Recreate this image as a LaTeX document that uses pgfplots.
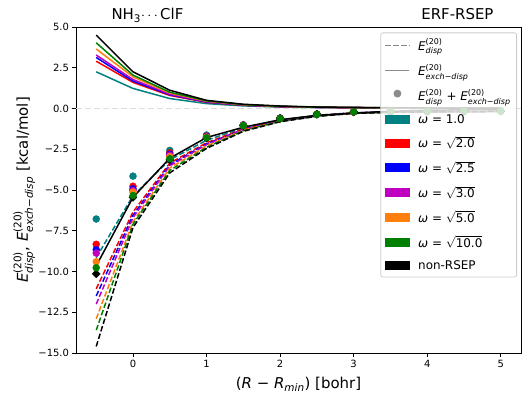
\documentclass[border=0pt]{standalone}
\usepackage{fontspec}
\setmainfont{DejaVu Sans}
\usepackage{amsmath}
\usepackage{pgfplots}
\usepackage{pgfplotstable}
\pgfplotsset{compat=1.18}

\definecolor{cteal}{RGB}{0,128,128}
\definecolor{cred}{RGB}{255,0,0}
\definecolor{cblue}{RGB}{0,0,255}
\definecolor{cmag}{RGB}{191,0,191}
\definecolor{corange}{RGB}{255,127,14}
\definecolor{cgreen}{RGB}{0,128,0}
\definecolor{legframe}{RGB}{204,204,204}
\definecolor{zeroline}{RGB}{220,220,220}
\definecolor{leggray}{RGB}{140,140,140}

\newcommand{\Ed}{$\textit{E}^{\text{(20)}}_{\textit{disp}}$}
\newcommand{\Ex}{$\textit{E}^{\text{(20)}}_{\textit{exch−disp}}$}

% R  exch  disp  tot
\pgfplotstableread{
R    exch  disp   tot
-0.5 2.25  -9.15  -6.78
0    1.23  -5.35  -4.15
0.5  0.61  -3.15  -2.57
1    0.30  -1.95  -1.63
1.5  0.16  -1.18  -1.00
2    0.09  -0.70  -0.58
2.5  0.06  -0.42  -0.34
3    0.04  -0.26  -0.20
3.5  0.03  -0.22  -0.19
4    0.02  -0.20  -0.18
4.5  0.015 -0.19  -0.17
5    0.01  -0.18  -0.16
}\wone
\pgfplotstableread{
R    exch  disp   tot
-0.5 2.90  -11.06 -8.33
0    1.60  -6.35  -4.77
0.5  0.80  -3.35  -2.72
1    0.38  -2.10  -1.68
1.5  0.20  -1.25  -1.02
2    0.11  -0.73  -0.60
2.5  0.07  -0.44  -0.35
3    0.05  -0.27  -0.21
3.5  0.035 -0.22  -0.19
4    0.025 -0.20  -0.18
4.5  0.018 -0.19  -0.17
5    0.012 -0.18  -0.16
}\wtwo
\pgfplotstableread{
R    exch  disp   tot
-0.5 3.13  -11.50 -8.66
0    1.68  -6.55  -4.93
0.5  0.84  -3.45  -2.80
1    0.40  -2.17  -1.71
1.5  0.21  -1.28  -1.03
2    0.12  -0.75  -0.60
2.5  0.075 -0.45  -0.35
3    0.05  -0.27  -0.21
3.5  0.035 -0.22  -0.19
4    0.025 -0.20  -0.18
4.5  0.018 -0.19  -0.17
5    0.012 -0.18  -0.16
}\wtwofive
\pgfplotstableread{
R    exch  disp   tot
-0.5 3.28  -12.00 -8.87
0    1.78  -6.70  -5.03
0.5  0.88  -3.52  -2.86
1    0.42  -2.22  -1.73
1.5  0.22  -1.30  -1.03
2    0.12  -0.76  -0.61
2.5  0.075 -0.45  -0.35
3    0.05  -0.28  -0.21
3.5  0.035 -0.22  -0.19
4    0.025 -0.20  -0.18
4.5  0.018 -0.19  -0.17
5    0.012 -0.18  -0.16
}\wthree
\pgfplotstableread{
R    exch  disp   tot
-0.5 3.65  -12.90 -9.40
0    1.94  -6.95  -5.13
0.5  0.95  -3.65  -2.95
1    0.45  -2.30  -1.76
1.5  0.23  -1.33  -1.04
2    0.13  -0.78  -0.61
2.5  0.08  -0.46  -0.35
3    0.055 -0.28  -0.21
3.5  0.04  -0.23  -0.19
4    0.028 -0.21  -0.18
4.5  0.02  -0.19  -0.17
5    0.014 -0.18  -0.16
}\wfive
\pgfplotstableread{
R    exch  disp   tot
-0.5 4.03  -13.60 -9.77
0    2.05  -7.10  -5.34
0.5  1.00  -3.80  -3.08
1    0.47  -2.38  -1.79
1.5  0.24  -1.36  -1.05
2    0.14  -0.79  -0.62
2.5  0.085 -0.47  -0.36
3    0.06  -0.29  -0.21
3.5  0.04  -0.23  -0.19
4    0.03  -0.21  -0.18
4.5  0.02  -0.19  -0.17
5    0.015 -0.18  -0.16
}\wten
% non-RSEP, ref = solid black line through the totals
\pgfplotstableread{
R    exch  disp   tot    ref
-0.5 4.50  -14.60 -10.14 -9.65
0    2.25  -7.30  -5.45  -5.45
0.5  1.12  -3.95  -3.15  -3.05
1    0.50  -2.45  -1.82  -1.78
1.5  0.26  -1.40  -1.06  -1.15
2    0.15  -0.81  -0.62  -0.69
2.5  0.09  -0.48  -0.36  -0.42
3    0.065 -0.30  -0.21  -0.28
3.5  0.045 -0.23  -0.19  -0.17
4    0.03  -0.21  -0.18  -0.11
4.5  0.022 -0.19  -0.17  -0.08
5    0.016 -0.18  -0.16  -0.06
}\nonrsep

\pgfplotsset{
  lineleg/.style={legend image code/.code={\draw[##1, line width=1.5bp, draw opacity=1, sharp corners] (0bp,0bp) -- (24bp,0bp);}},
  boxleg/.style={legend image code/.code={\fill[##1, fill opacity=1, sharp corners] (0bp,-4bp) rectangle (24bp,4bp);}},
  dotleg/.style={legend image code/.code={\fill[leggray, fill opacity=1] (12bp,2bp) circle (3.5bp);}},
  dis/.style={line width=1.5bp, dash pattern=on 5.5bp off 2.4bp, forget plot},
  exd/.style={line width=1.5bp, forget plot},
  tot/.style={only marks, mark=*, mark size=3.5bp, forget plot},
}

\begin{document}
\begin{tikzpicture}
\begin{axis}[
  name=ax,
  width=445bp, height=326bp, scale only axis,
  xmin=-0.775, xmax=5.275, ymin=-15, ymax=5,
  xtick={0,1,2,3,4,5}, xticklabels={0,1,2,3,4,5},
  ytick={-15,-12.5,-10,-7.5,-5,-2.5,0,2.5,5},
  yticklabels={−15.0,−12.5,−10.0,−7.5,−5.0,−2.5,0.0,2.5,5.0},
  tick label style={font=\fontsize{10}{12}\selectfont},
  xtick pos=left, ytick pos=left,
  tick align=outside, major tick length=3.5bp,
  every tick/.style={black, line width=0.8bp},
  axis line style={line width=0.8bp},
  legend style={
    at={(1,1)}, anchor=north east, xshift=-4bp, yshift=-5.5bp,
    draw=legframe, line width=0.8bp, rounded corners=2bp,
    fill=white, fill opacity=0.8, text opacity=1,
    font=\fontsize{12}{14}\selectfont,
    row sep=8bp, inner xsep=4bp, inner ysep=4bp,
    /tikz/every odd column/.append style={column sep=6bp},
  },
  legend cell align=left,
]
\addplot[zeroline, line width=1.5bp, dash pattern=on 6bp off 3bp, forget plot] coordinates {(-0.775,0) (5.275,0)};

\addplot[cteal, dis] table[x=R, y=disp] {\wone};
\addplot[cteal, exd] table[x=R, y=exch] {\wone};
\addplot[cred, dis] table[x=R, y=disp] {\wtwo};
\addplot[cred, exd] table[x=R, y=exch] {\wtwo};
\addplot[cblue, dis] table[x=R, y=disp] {\wtwofive};
\addplot[cblue, exd] table[x=R, y=exch] {\wtwofive};
\addplot[cmag, dis] table[x=R, y=disp] {\wthree};
\addplot[cmag, exd] table[x=R, y=exch] {\wthree};
\addplot[corange, dis] table[x=R, y=disp] {\wfive};
\addplot[corange, exd] table[x=R, y=exch] {\wfive};
\addplot[cgreen, dis] table[x=R, y=disp] {\wten};
\addplot[cgreen, exd] table[x=R, y=exch] {\wten};
\addplot[black, dis] table[x=R, y=disp] {\nonrsep};
\addplot[black, exd] table[x=R, y=exch] {\nonrsep};
\addplot[black, exd] table[x=R, y=ref] {\nonrsep};

\addplot[cteal, tot] table[x=R, y=tot] {\wone};
\addplot[cred, tot] table[x=R, y=tot] {\wtwo};
\addplot[cblue, tot] table[x=R, y=tot] {\wtwofive};
\addplot[cmag, tot] table[x=R, y=tot] {\wthree};
\addplot[corange, tot] table[x=R, y=tot] {\wfive};
\addplot[black, tot, mark=diamond*, mark size=4bp, mark options={xscale=1.33}] table[x=R, y=tot] {\nonrsep};
\addplot[cgreen, tot] table[x=R, y=tot] {\wten};

\addlegendimage{leggray, dash pattern=on 5.5bp off 2.4bp, lineleg}
\addlegendentry{\Ed}
\addlegendimage{leggray, lineleg}
\addlegendentry{\Ex}
\addlegendimage{leggray, dotleg}
\addlegendentry{\Ed{} + \Ex}
\addlegendimage{cteal, boxleg}
\addlegendentry{\textit{ω} = 1.0}
\addlegendimage{cred, boxleg}
\addlegendentry{\textit{ω} = $\sqrt{\text{2.0}}$}
\addlegendimage{cblue, boxleg}
\addlegendentry{\textit{ω} = $\sqrt{\text{2.5}}$}
\addlegendimage{cmag, boxleg}
\addlegendentry{\textit{ω} = $\sqrt{\text{3.0}}$}
\addlegendimage{corange, boxleg}
\addlegendentry{\textit{ω} = $\sqrt{\text{5.0}}$}
\addlegendimage{cgreen, boxleg}
\addlegendentry{\textit{ω} = $\sqrt{\text{10.0}}$}
\addlegendimage{black, boxleg}
\addlegendentry{non-RSEP}
\end{axis}

\node[anchor=base west, font=\fontsize{15}{18}\selectfont] at ([xshift=32bp, yshift=7bp]ax.north west) {NH\textsubscript{3}$\cdots$ClF};
\node[anchor=base east, font=\fontsize{15}{18}\selectfont] at ([xshift=-24bp, yshift=7bp]ax.north east) {ERF-RSEP};
\node[anchor=base, font=\fontsize{15}{18}\selectfont] at ([yshift=-35bp]ax.south) {(\textit{R} − \textit{R}\textsubscript{\textit{min}}) [bohr]};
\node[anchor=base, rotate=90, font=\fontsize{15}{18}\selectfont] at ([xshift=-48bp]ax.west) {\Ed, \Ex{} [kcal/mol]};

\pgfresetboundingbox
\path[use as bounding box] ([xshift=-76bp, yshift=-46bp]ax.south west) rectangle ([xshift=8bp, yshift=27bp]ax.north east);
\end{tikzpicture}
\end{document}
